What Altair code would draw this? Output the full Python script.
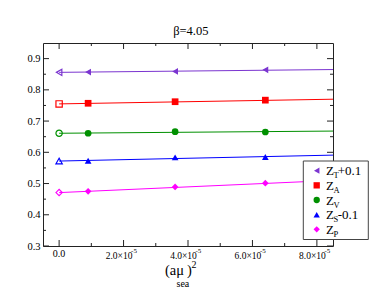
import altair as alt
import pandas as pd

# ---------------- data ----------------
series = ["ZT", "ZA", "ZV", "ZS", "ZP"]
colors = ["#7b35d0", "#ff0000", "#009000", "#0000ff", "#ff00ff"]
shapes = ["triangle-left", "square", "circle", "triangle-up", "diamond"]
leg_sub = ["T", "A", "V", "S", "P"]
leg_suffix = ["+0.1", "", "", "-0.1", ""]

x_pts = [0.0, 0.9e-5, 3.6e-5, 6.4e-5]
y_ZT = [0.856, 0.857, 0.859, 0.864]
y_ZA = [0.755, 0.757, 0.762, 0.767]
y_ZV = [0.661, 0.661, 0.666, 0.665]
y_ZS = [0.572, 0.573, 0.584, 0.585]
y_ZP = [0.471, 0.475, 0.489, 0.501]

fit_x = [0.0, 8.5e-5]
fit_ZT = [0.856, 0.865]
fit_ZA = [0.755, 0.770]
fit_ZV = [0.661, 0.668]
fit_ZS = [0.572, 0.591]
fit_ZP = [0.471, 0.510]

x_major = [0.0, 2e-5, 4e-5, 6e-5, 8e-5]
x_minor = [1e-5, 3e-5, 5e-5, 7e-5]
x_mant = ["2.0×10", "4.0×10", "6.0×10", "8.0×10"]
y_major = [0.3, 0.4, 0.5, 0.6, 0.7, 0.8, 0.9]
y_minor = [0.35, 0.45, 0.55, 0.65, 0.75, 0.85]

# ---------------- tables ----------------
ys = [y_ZT, y_ZA, y_ZV, y_ZS, y_ZP]
fits = [fit_ZT, fit_ZA, fit_ZV, fit_ZS, fit_ZP]
pts = pd.DataFrame([{"series": s, "x": x, "y": y}
                    for s, yl in zip(series, ys) for x, y in zip(x_pts, yl)])
fit = pd.DataFrame([{"series": s, "x": x, "y": y}
                    for s, yl in zip(series, fits) for x, y in zip(fit_x, yl)])
leg = pd.DataFrame({"row": list(range(5)), "color": colors, "shape": shapes,
                    "sub": leg_sub, "suffix": leg_suffix})

W, H = 290, 203
FONT = "Times New Roman, Liberation Serif, serif"
xscale = alt.Scale(domain=[-0.5e-5, 8.5e-5], nice=False, zero=False)
yscale = alt.Scale(domain=[0.3, 0.95], nice=False, zero=False)
cscale = alt.Scale(domain=series, range=colors)
sscale = alt.Scale(domain=series, range=shapes)

yaxis = alt.Axis(values=y_major, format=".1f", ticks=False, domain=False,
                 grid=False, labelPadding=3, labelFont=FONT,
                 labelFontSize=10.5, labelColor="#000", title=None)
X = alt.X("x:Q", scale=xscale, axis=None)
Y = alt.Y("y:Q", scale=yscale, axis=yaxis)
C = alt.Color("series:N", scale=cscale, legend=None)
S = alt.Shape("series:N", scale=sscale, legend=None)

lines = alt.Chart(fit).mark_line(strokeWidth=1).encode(x=X, y=Y, color=C, detail="series:N")
filled = alt.Chart(pts[pts.x > 0]).mark_point(filled=True, size=45, opacity=1).encode(
    x=X, y=Y, color=C, shape=S)
hollow = alt.Chart(pts[pts.x == 0]).mark_point(filled=False, size=40, strokeWidth=1.2,
                                                opacity=1).encode(x=X, y=Y, color=C, shape=S)

# inward ticks on all four sides
def xticks(vals, length):
    d = pd.DataFrame({"v": vals})
    xe = alt.X("v:Q", scale=xscale, axis=None)
    top = alt.Chart(d).mark_rule(color="#222", strokeWidth=1).encode(
        x=xe, y=alt.value(0), y2=alt.value(length))
    bot = alt.Chart(d).mark_rule(color="#222", strokeWidth=1).encode(
        x=xe, y=alt.value(H), y2=alt.value(H - length))
    return [top, bot]

def yticks(vals, length):
    d = pd.DataFrame({"v": vals})
    ye = alt.Y("v:Q", scale=yscale, axis=yaxis)
    left = alt.Chart(d).mark_rule(color="#222", strokeWidth=1).encode(
        y=ye, x=alt.value(0), x2=alt.value(length))
    right = alt.Chart(d).mark_rule(color="#222", strokeWidth=1).encode(
        y=ye, x=alt.value(W), x2=alt.value(W - length))
    return [left, right]

ticks = xticks(x_major, 6) + xticks(x_minor, 3) + yticks(y_major, 6) + yticks(y_minor, 3)

# x tick labels
xl0 = alt.Chart(pd.DataFrame({"v": [x_major[0]], "t": ["0.0"]})).mark_text(
    font=FONT, fontSize=10, baseline="middle", align="center").encode(
    x=alt.X("v:Q", scale=xscale, axis=None), y=alt.value(H + 7.5), text="t:N")
dxl = pd.DataFrame({"v": x_major[1:], "t": x_mant})
xlm = alt.Chart(dxl).mark_text(font=FONT, fontSize=9.5, baseline="middle", align="center",
                               dx=-4.5).encode(
    x=alt.X("v:Q", scale=xscale, axis=None), y=alt.value(H + 9.5), text="t:N")
xle = alt.Chart(dxl).mark_text(font=FONT, fontSize=7, baseline="middle", align="left",
                               dx=7.5).encode(
    x=alt.X("v:Q", scale=xscale, axis=None), y=alt.value(H + 4.5), text=alt.value("-5"))

def txt(s, x, y, size, align="left", baseline="alphabetic"):
    return alt.Chart(pd.DataFrame({"a": [0]})).mark_text(
        font=FONT, fontSize=size, align=align, baseline=baseline, color="#000").encode(
        x=alt.value(x), y=alt.value(y), text=alt.value(s))

deco = [
    txt("β=4.05", 147.8, -12, 12.5, align="center", baseline="middle"),
    txt("(aμ", 122, 231.5, 14.5),
    txt("sea", 133.5, 243.5, 10),
    txt(")", 144, 231.5, 14.5),
    txt("2", 148.5, 225, 10),
]

main = alt.layer(lines, filled, hollow, *ticks, xl0, xlm, xle, *deco)

# ---------------- manual legend ----------------
RY = alt.Y("row:Q", scale=alt.Scale(domain=[0, 4], range=[127.7, 186.3]), axis=None)
box = alt.Chart(pd.DataFrame({"a": [0]})).mark_rect(
    fill="white", stroke="#444", strokeWidth=1).encode(
    x=alt.value(260.3), x2=alt.value(325.3), y=alt.value(118), y2=alt.value(196.5))
lsym = alt.Chart(leg).mark_point(filled=True, size=40, opacity=1).encode(
    x=alt.value(273.7), y=RY,
    color=alt.Color("color:N", scale=None, legend=None),
    shape=alt.Shape("shape:N", scale=None, legend=None))
lz = alt.Chart(leg).mark_text(font=FONT, fontSize=13, align="left", baseline="alphabetic",
                              dy=4.5).encode(x=alt.value(283), y=RY, text=alt.value("Z"))
lsub = alt.Chart(leg).mark_text(font=FONT, fontSize=8.5, align="left",
                                baseline="alphabetic", dy=7.5).encode(
    x=alt.value(290.5), y=RY, text="sub:N")
lsuf = alt.Chart(leg).mark_text(font=FONT, fontSize=13, align="left",
                                baseline="alphabetic", dy=4.5).encode(
    x=alt.value(294.7), y=RY, text="suffix:N")
legend = alt.layer(box, lsym, lz, lsub, lsuf)

chart = alt.layer(main, legend).resolve_scale(y="independent").properties(
    width=W, height=H,
    padding={"left": 35, "top": 35, "right": 44, "bottom": 44},
    autosize=alt.AutoSizeParams(type="none"),
).configure_view(stroke="#222", strokeWidth=1)

chart.save("out.html", embed_options={"renderer": "svg", "actions": False})
